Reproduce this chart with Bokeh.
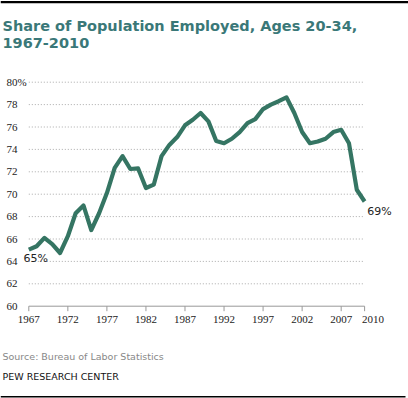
from bokeh.plotting import figure
from bokeh.models import Range1d, Label, LabelSet, ColumnDataSource
from bokeh.embed import file_html
from bokeh.resources import INLINE

# ---- data ----
years = list(range(1967, 2011))
employed = [65.05, 65.35, 66.1, 65.55, 64.75, 66.25, 68.3, 69.0, 66.8, 68.3,
            70.1, 72.35, 73.4, 72.25, 72.3, 70.55, 70.85, 73.4, 74.4, 75.1,
            76.15, 76.65, 77.25, 76.5, 74.75, 74.55, 74.95, 75.55, 76.35, 76.7,
            77.6, 78.0, 78.3, 78.65, 77.25, 75.55, 74.55, 74.7, 74.95, 75.55,
            75.75, 74.55, 70.4, 69.35]
y_ticks = [60, 62, 64, 66, 68, 70, 72, 74, 76, 78, 80]
y_tick_labels = ["60", "62", "64", "66", "68", "70", "72", "74", "76", "78", "80%"]
x_ticks = [1967, 1972, 1977, 1982, 1987, 1992, 1997, 2002, 2007, 2010]
x_tick_labels = ["1967", "1972", "1977", "1982", "1987", "1992", "1997", "2002", "2007", "2010"]
title_lines = ["Share of Population Employed, Ages 20-34,", "1967-2010"]
source_note = "Source: Bureau of Labor Statistics"
credit = "PEW RESEARCH CENTER"
start_label = "65%"
end_label = "69%"

# ---- style ----
FONT = "DejaVu Sans"
LINE_COLOR = "#357563"
TITLE_COLOR = "#3a7878"
W, H = 408, 398
PX_X = 7.8093   # pixels per year
PX_Y = 11.2     # pixels per percentage point
X0_PX, Y0_PX = 28.3, 305.7   # where (first year, lowest tick) sits on the canvas
x_lab_shift = [0, 0, 0, 0, 0, 0, 0, 0, 0, 8.4]

x_start = x_ticks[0] - X0_PX / PX_X
x_end = x_start + W / PX_X
y_start = y_ticks[0] - (H - Y0_PX) / PX_Y
y_end = y_start + H / PX_Y

p = figure(width=W, height=H, output_backend="svg", toolbar_location=None,
           x_range=Range1d(x_start, x_end), y_range=Range1d(y_start, y_end),
           min_border=0)
p.outline_line_color = None
p.background_fill_color = "white"
p.border_fill_color = "white"
p.xgrid.visible = False
p.ygrid.visible = False
p.xaxis.visible = False
p.yaxis.visible = False

# top and bottom rules (drawn as thin filled bands)
p.quad(left=[x_start], right=[x_end], top=[y_end - 0.6 / PX_Y], bottom=[y_end - 2.8 / PX_Y],
       fill_color="#000000", line_color=None)
p.quad(left=[x_start], right=[x_end - 3 / PX_X], top=[y_end - 395.4 / PX_Y],
       bottom=[y_end - 397.0 / PX_Y], fill_color="#000000", line_color=None)

# dotted horizontal grid lines spanning the data years
n = len(y_ticks) - 1
p.segment(x0=[years[0]] * n, x1=[years[-1]] * n, y0=y_ticks[1:], y1=y_ticks[1:],
          line_color="#aaaaaa", line_dash="1 2", line_width=1)
# x axis base line and tick marks
p.segment(x0=[years[0]], x1=[years[-1]], y0=[y_ticks[0]], y1=[y_ticks[0]],
          line_color="#999999", line_width=1)
p.segment(x0=x_ticks, x1=x_ticks, y0=[y_ticks[0]] * len(x_ticks),
          y1=[y_ticks[0] - 5 / PX_Y] * len(x_ticks), line_color="#999999", line_width=1)

# x tick labels
xsrc = ColumnDataSource(dict(x=x_ticks, text=x_tick_labels, dx=x_lab_shift))
p.add_layout(LabelSet(x="x", y=H - 319, text="text", source=xsrc, y_units="screen",
                      x_offset="dx", text_align="center", text_baseline="middle",
                      text_font=FONT, text_font_size="11px", text_color="#222222"))

# y tick labels (left aligned, like the original)
ysrc = ColumnDataSource(dict(y=y_ticks, text=y_tick_labels))
p.add_layout(LabelSet(x=6, y="y", text="text", source=ysrc, x_units="screen",
                      text_align="left", text_baseline="middle",
                      text_font=FONT, text_font_size="11px", text_color="#222222"))

# line
p.line(years, employed, line_color=LINE_COLOR, line_width=4.2, line_join="round")

# end labels
p.add_layout(Label(x=years[0], y=employed[0], text=start_label, x_offset=-5.3, y_offset=-9.1,
                   text_baseline="middle", text_font=FONT, text_font_size="11px",
                   text_color="#222222"))
p.add_layout(Label(x=years[-1], y=employed[-1], text=end_label, x_offset=2.6, y_offset=-10.2,
                   text_baseline="middle", text_font=FONT, text_font_size="11px",
                   text_color="#222222"))

# title
for txt, mid in zip(title_lines, [25.0, 42.0]):
    p.add_layout(Label(x=2, y=H - mid, x_units="screen", y_units="screen", text=txt,
                       text_baseline="middle", text_font=FONT, text_font_size="14.5px",
                       text_font_style="bold", text_color=TITLE_COLOR))

# footer
p.add_layout(Label(x=2, y=H - 356.2, x_units="screen", y_units="screen", text=source_note,
                   text_baseline="middle", text_font=FONT, text_font_size="9.5px",
                   text_color="#888888"))
p.add_layout(Label(x=2, y=H - 375.5, x_units="screen", y_units="screen", text=credit,
                   text_baseline="middle", text_font=FONT, text_font_size="9.5px",
                   text_color="#111111"))

open("out.html", "w").write(file_html(p, INLINE))
